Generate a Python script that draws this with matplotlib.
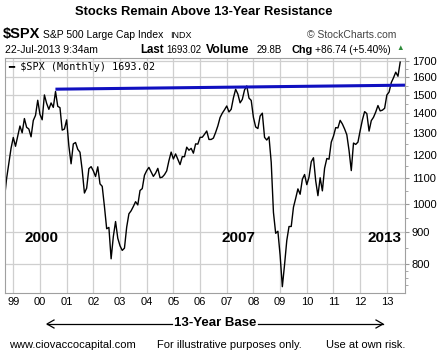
import matplotlib
matplotlib.use('Agg')
import matplotlib.pyplot as plt
from matplotlib.ticker import FixedLocator, NullFormatter
import numpy as np

plt.rcParams['font.family'] = ['Liberation Sans', 'DejaVu Sans']

# monthly closes of $SPX, Sep 1998 .. Jul 2013
start_year, start_month = 1998, 9
closes = [
    1017.01, 1098.67, 1163.63, 1229.23,
    1279.64, 1238.33, 1286.37, 1335.18, 1301.84, 1372.71, 1328.72, 1320.41, 1282.71, 1362.93, 1388.91, 1469.25,
    1394.46, 1366.42, 1498.58, 1452.43, 1420.60, 1454.60, 1430.83, 1517.68, 1436.51, 1429.40, 1314.95, 1320.28,
    1366.01, 1239.94, 1160.33, 1249.46, 1255.82, 1224.42, 1211.23, 1133.58, 1040.94, 1059.78, 1139.45, 1148.08,
    1130.20, 1106.73, 1147.39, 1076.92, 1067.14, 989.82, 911.62, 916.07, 815.28, 885.76, 936.31, 879.82,
    855.70, 841.15, 848.18, 916.92, 963.59, 974.50, 990.31, 1008.01, 995.97, 1050.71, 1058.20, 1111.92,
    1131.13, 1144.94, 1126.21, 1107.30, 1120.68, 1140.84, 1101.72, 1104.24, 1114.58, 1130.20, 1173.82, 1211.92,
    1181.27, 1203.60, 1180.59, 1156.85, 1191.50, 1191.33, 1234.18, 1220.33, 1228.81, 1207.01, 1249.48, 1248.29,
    1280.08, 1280.66, 1294.87, 1310.61, 1270.09, 1270.20, 1276.66, 1303.82, 1335.85, 1377.94, 1400.63, 1418.30,
    1438.24, 1406.82, 1420.86, 1482.37, 1530.62, 1503.35, 1455.27, 1473.99, 1526.75, 1549.38, 1481.14, 1468.36,
    1378.55, 1330.63, 1322.70, 1385.59, 1400.38, 1280.00, 1267.38, 1282.83, 1166.36, 968.75, 896.24, 903.25,
    825.88, 735.09, 797.87, 872.81, 919.14, 919.32, 987.48, 1020.62, 1057.08, 1036.19, 1095.63, 1115.10,
    1073.87, 1104.49, 1169.43, 1186.69, 1089.41, 1030.71, 1101.60, 1049.33, 1141.20, 1183.26, 1180.55, 1257.64,
    1286.12, 1327.22, 1325.83, 1363.61, 1345.20, 1320.64, 1292.28, 1218.89, 1131.42, 1253.30, 1246.96, 1257.60,
    1312.41, 1365.68, 1408.47, 1397.91, 1310.33, 1362.16, 1379.32, 1406.58, 1440.67, 1412.16, 1416.18, 1426.19,
    1498.11, 1514.68, 1569.19, 1597.57, 1630.74, 1606.28, 1693.02,
]

# resistance line drawn from the 2000 peak
res_x = [2000.58, 2013.68]
res_y = [1531, 1554]

year_ticks = list(range(1999, 2014))
year_labels = ['%02d' % (y % 100) for y in year_ticks]
price_ticks = [800, 900, 1000, 1100, 1200, 1300, 1400, 1500, 1600, 1700]

era_labels = ['2000', '2007', '2013']
era_x = [2000.05, 2007.45, 2012.9]

x = np.array([start_year + (start_month - 1 + i) / 12 for i in range(len(closes))])

W, H = 437, 357
fig = plt.figure(figsize=(W / 100, H / 100), dpi=100)
ax = fig.add_axes([5 / W, 1 - 293 / H, 400 / W, 235 / H])

ax.plot(x, closes, color='black', lw=1.0)
ax.plot(res_x, res_y, color='#1010c0', lw=2.2, solid_capstyle='butt')

ax.set_yscale('log')
ax.set_ylim(718, 1719)
ax.set_xlim(1998.69, 2013.68)

ax.yaxis.tick_right()
ax.yaxis.set_major_locator(FixedLocator(price_ticks))
ax.yaxis.set_minor_locator(FixedLocator([740, 760, 780, 850, 950, 1050, 1150, 1250, 1350, 1450, 1550, 1650]))
ax.yaxis.set_minor_formatter(NullFormatter())
ax.set_yticklabels([str(p) for p in price_ticks])
ax.set_xticks(year_ticks)
ax.set_xticklabels(year_labels)
ax.tick_params(axis='both', which='major', labelsize=8, length=3, color='#999999', pad=2)
ax.tick_params(axis='y', which='minor', length=2, color='#999999')
ax.tick_params(axis='x', length=0, pad=3)
ax.grid(True, which='major', color='#cfcfcf', lw=0.9)
for s in ax.spines.values():
    s.set_color('#a0a0a0')

for lab, ex in zip(era_labels, era_x):
    ax.text(ex, 880, lab, fontsize=11, fontweight='bold', ha='center', va='center')

ax.text(0.008, 0.985, '\u2501 $SPX (Monthly) 1693.02', transform=ax.transAxes,
        fontsize=7.3, family='DejaVu Sans Mono', va='top', ha='left')


def px(xp, yp):
    return xp / W, 1 - yp / H


fig.text(*px(204, 12), 'Stocks Remain Above 13-Year Resistance', fontsize=9.4,
         fontweight='bold', ha='center', va='center')
fig.text(*px(3, 34), '$SPX', fontsize=10.5, fontweight='bold', va='center')
fig.text(*px(43, 35), 'S&P 500 Large Cap Index', fontsize=7.5, va='center')
fig.text(*px(170, 35), 'INDX', fontsize=6.5, va='center')
fig.text(*px(396, 35), '\u00a9 StockCharts.com', fontsize=7.5, va='center', ha='right', color='#444444')
fig.text(*px(5, 50), '22-Jul-2013 9:34am', fontsize=7.5, va='center')
fig.text(*px(140, 50), 'Last', fontsize=8.3, fontweight='bold', va='center')
fig.text(*px(166, 50), '1693.02', fontsize=7, va='center')
fig.text(*px(206, 50), 'Volume', fontsize=8.8, fontweight='bold', va='center')
fig.text(*px(257, 50), '29.8B', fontsize=7, va='center')
fig.text(*px(292, 50), 'Chg', fontsize=7.8, fontweight='bold', va='center')
fig.text(*px(315, 50), '+86.74 (+5.40%)', fontsize=7.3, va='center')
fig.text(*px(400, 49), '\u25b2', fontsize=5.5, color='#2e8b3a', va='center', ha='center')

# 13-year base arrows
fig.text(*px(215, 323), '13-Year Base', fontsize=9.5, fontweight='bold', ha='center', va='center')
fig.add_artist(plt.Line2D([47 / W, 172 / W], [1 - 324 / H] * 2, color='black', lw=0.9))
fig.add_artist(plt.Line2D([258 / W, 383 / W], [1 - 324 / H] * 2, color='black', lw=0.9))
fig.add_artist(plt.Line2D([54 / W, 47 / W, 54 / W], [1 - 320 / H, 1 - 324 / H, 1 - 328 / H], color='black', lw=0.9))
fig.add_artist(plt.Line2D([376 / W, 383 / W, 376 / W], [1 - 320 / H, 1 - 324 / H, 1 - 328 / H], color='black', lw=0.9))

fig.text(*px(9, 345), 'www.ciovaccocapital.com', fontsize=8, va='center')
fig.text(*px(157, 345), 'For illustrative purposes only.', fontsize=8, va='center')
fig.text(*px(326, 345), 'Use at own risk.', fontsize=8, va='center')

fig.savefig('out.png', dpi=100)
